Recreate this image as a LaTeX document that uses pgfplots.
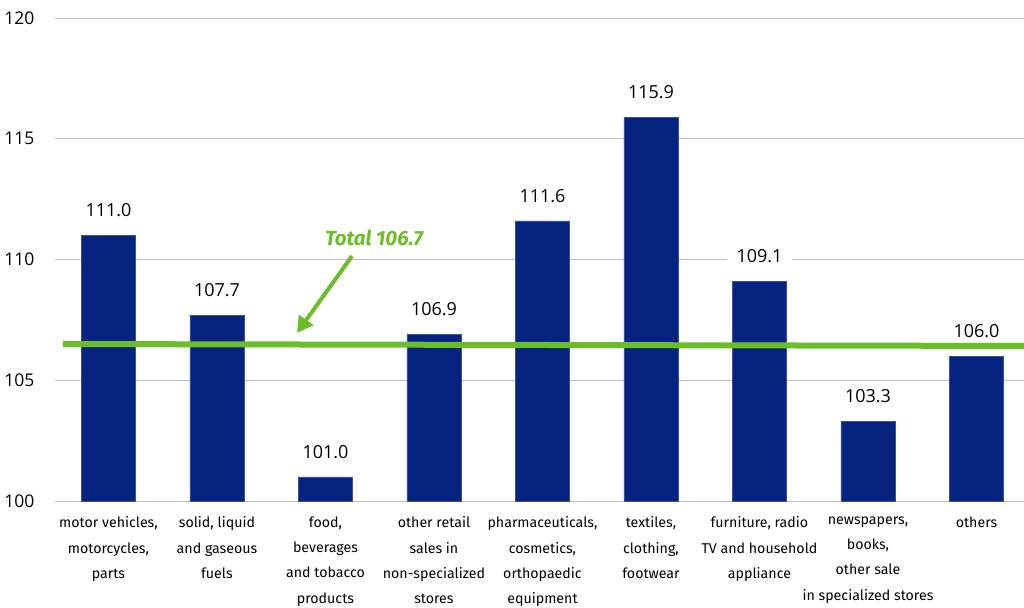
\documentclass[border=0pt]{standalone}
\usepackage{pgfplots}
\pgfplotsset{compat=1.18}
\usepackage{fontspec}
\setmainfont{Fira Sans}
\newfontfamily\numfont{Open Sans}
\newfontfamily\totfont{Fira Sans}
\usetikzlibrary{arrows.meta}
\definecolor{navy}{RGB}{6,35,128}
\definecolor{tgreen}{RGB}{108,190,40}
\definecolor{gridgray}{RGB}{190,190,190}
\pgfplotstableread{
x y
0 111.0
1 107.7
2 101.0
3 106.9
4 111.6
5 115.9
6 109.1
7 103.3
8 106.0
}\datatable
\begin{document}
\begin{tikzpicture}
\begin{axis}[
  scale only axis,
  width=969pt, height=483pt,
  xmin=-0.493, xmax=8.438,
  ymin=100, ymax=120,
  ytick={100,105,110,115,120},
  ymajorgrids,
  grid style={gridgray, line width=0.9pt},
  axis line style={draw=none},
  major tick length=0pt,
  xtick={0,...,8},
  xticklabels={
    {motor vehicles,\\motorcycles,\\parts},
    {solid, liquid\\and gaseous\\fuels},
    {food,\\beverages\\and tobacco\\products},
    {other retail\\sales in\\non-specialized\\stores},
    {pharmaceuticals,\\cosmetics,\\orthopaedic\\equipment},
    {textiles,\\clothing,\\footwear},
    {furniture, radio\\TV and household\\appliance},
    {newspapers,\\books,\\other sale\\in specialized stores},
    {others}},
  xticklabel style={font=\fontsize{14.2}{25.4}\selectfont, align=center, anchor=north, yshift=-12pt},
  yticklabel style={font=\numfont\fontsize{17.5}{20}\selectfont, anchor=east, xshift=-17pt},
  /pgf/number format/assume math mode=true,
  clip=false,
]
\addplot[ybar, bar width=54pt, bar shift=0pt, fill=navy, draw=navy!80!white, line width=0.6pt] table[x=x,y=y] {\datatable};
\addplot[tgreen, line width=6pt] coordinates {(-0.42,106.50) (8.438,106.42)};
\addplot[draw=none, mark=none, nodes near coords={\pgfmathprintnumber[fixed, fixed zerofill, precision=1]{\pgfplotspointmeta}},
  every node near coord/.append style={font=\numfont\fontsize{18}{20}\selectfont, fill=white, inner xsep=10pt, inner ysep=2pt, anchor=center, yshift=25pt, text=black}]
  table[x=x,y=y] {\datatable};
\draw[tgreen, line width=4pt, -{Triangle[length=16pt, width=17pt]}] (axis cs:2.244,110.14) -- (axis cs:1.737,106.96);
\node[text=tgreen, font=\totfont\bfseries\itshape\fontsize{20.5}{22}\selectfont] at (axis cs:2.447,110.89) {Total 106.7};
\end{axis}
\pgfresetboundingbox
\useasboundingbox ([xshift=-55pt,yshift=-107pt]current axis.south west) rectangle ([yshift=18pt]current axis.north east);
\end{tikzpicture}
\end{document}
